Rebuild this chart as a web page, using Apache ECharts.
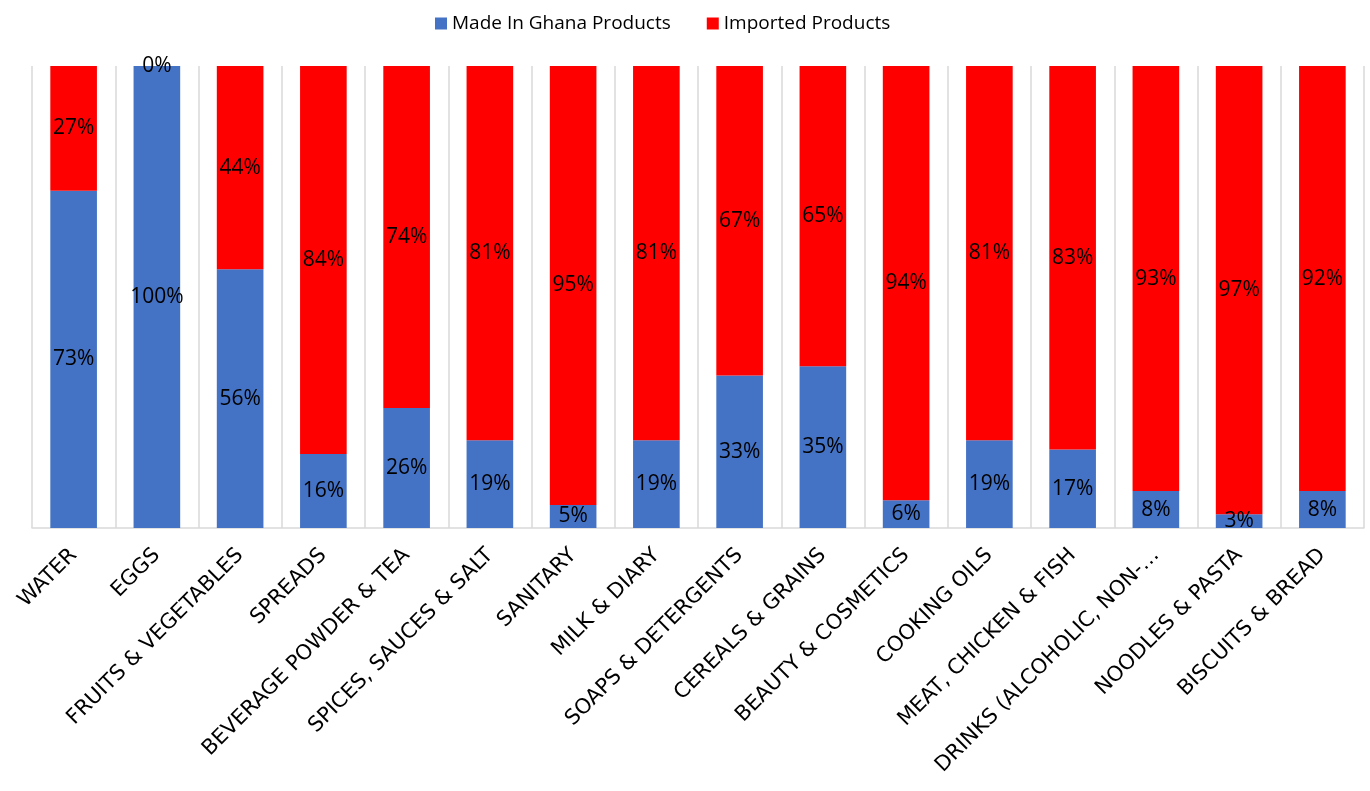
<!DOCTYPE html>
<html>
<head>
<meta charset="utf-8">
<script src="https://cdn.jsdelivr.net/npm/echarts@6/dist/echarts.min.js"></script>
<style>
html,body{margin:0;padding:0;background:#fff;}
#chart{width:1370px;height:791px;}
</style>
</head>
<body>
<div id="chart"></div>
<script>
const categories = ["WATER","EGGS","FRUITS & VEGETABLES","SPREADS","BEVERAGE POWDER & TEA","SPICES, SAUCES & SALT","SANITARY","MILK & DIARY","SOAPS & DETERGENTS","CEREALS & GRAINS","BEAUTY & COSMETICS","COOKING OILS","MEAT, CHICKEN & FISH","DRINKS (ALCOHOLIC, NON-…","NOODLES & PASTA","BISCUITS & BREAD"];
const madeInGhana = [73,100,56,16,26,19,5,19,33,35,6,19,17,8,3,8];
const imported = [27,0,44,84,74,81,95,81,67,65,94,81,83,93,97,92];
const seriesNames = ["Made In Ghana Products","Imported Products"];

const chart = echarts.init(document.getElementById('chart'));
const labelStyle = {
  show: true,
  position: 'inside',
  color: '#000',
  fontFamily: 'Open Sans',
  fontSize: 21,
  formatter: p => p.value + '%'
};
chart.setOption({
  animation: false,
  legend: {
    top: 9,
    left: 430,
    itemWidth: 12,
    itemHeight: 12,
    itemGap: 36,
    icon: 'rect',
    textStyle: {fontFamily: 'Open Sans', fontSize: 19, color: '#000'},
    data: seriesNames
  },
  grid: {left: 32, right: 6, top: 66, bottom: 263, containLabel: false},
  xAxis: {
    type: 'category',
    data: categories,
    axisLine: {show: true, lineStyle: {color: '#d9d9d9', width: 1.5}},
    axisTick: {show: false},
    splitLine: {show: true, lineStyle: {color: '#d9d9d9', width: 1.5}},
    axisLabel: {
      interval: 0,
      rotate: 45,
      margin: 24,
      color: '#000',
      fontFamily: 'DejaVu Sans',
      fontSize: 21
    }
  },
  yAxis: {
    type: 'value',
    min: 0,
    max: 100,
    show: false,
    splitLine: {show: false}
  },
  series: [
    {
      name: seriesNames[0],
      type: 'bar',
      stack: 'total',
      barWidth: '56%',
      itemStyle: {color: '#4472C4'},
      label: labelStyle,
      data: madeInGhana
    },
    {
      name: seriesNames[1],
      type: 'bar',
      stack: 'total',
      barWidth: '56%',
      itemStyle: {color: '#FF0000'},
      label: labelStyle,
      data: imported
    }
  ]
});
</script>
</body>
</html>
